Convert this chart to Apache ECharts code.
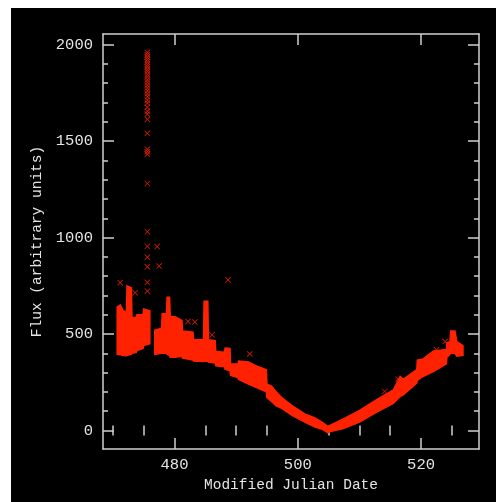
<!DOCTYPE html>
<html>
<head>
<meta charset="utf-8">
<script src="https://cdn.jsdelivr.net/npm/echarts@6/dist/echarts.min.js"></script>
<style>
  html, body { margin: 0; padding: 0; background: #fff; }
  #chart { position: absolute; left: 11px; top: 8px; width: 485px; height: 494px; background: #000; }
</style>
</head>
<body>
<div id="chart"></div>
<script>
// main band of points: date, lower and upper edge of the flux (null = gap)
var bandDate = [470.7, 471.2, 471.7, 472.2, 472.3, 473.0, 473.1, 473.8, 473.9, 474.9, 475.0, 476.0, null,
    476.8, 477.9, 478.0, 478.7, 478.8, 479.2, 479.3, 480.1, 481.2, 481.3, 483.0, 483.1, 484.7, 484.8, 485.4,
    485.5, 486.6, 486.7, 488.1, 488.2, 489.0, 489.1, 490.3, 490.4, 492.0, 493.6, 494.9, 495.0, 495.75, 496.5,
    497.4, 499.0, 501.2, 502.8, 504.1, 504.9, 505.3, 507.4, 510.1, 512.8, 515.5, 516.6, 517.1, 519.3, 519.4,
    520.3, 522.0, 524.1, 524.2, 524.7, 524.8, 525.5, 525.8, 526.8];
var bandLow = [395, 393, 388, 387, 390, 395, 400, 405, 415, 425, 440, 450, null,
    395, 400, 400, 400, 395, 390, 380, 380, 385, 375, 365, 360, 358, 360, 358,
    355, 350, 335, 330, 318, 310, 285, 275, 265, 240, 218, 200, 170, 150, 128,
    115, 80, 42, 18, 5, -12, -5, 10, 45, 95, 140, 176, 185, 245, 260,
    280, 305, 345, 380, 395, 400, 400, 385, 390];
var bandHigh = [640, 650, 620, 615, 750, 740, 585, 585, 600, 600, 630, 620, null,
    520, 530, 605, 605, 690, 690, 590, 590, 570, 515, 510, 470, 470, 670, 670,
    470, 465, 410, 405, 427, 425, 345, 345, 360, 355, 330, 315, 240, 230, 200,
    170, 130, 85, 65, 40, 20, 28, 60, 105, 160, 210, 280, 265, 315, 365,
    370, 412, 420, 455, 460, 515, 515, 460, 440];

// scattered points away from the band
var outDate = [475.6, 475.6, 475.6, 475.6, 475.6, 475.6, 475.6, 475.6, 475.6, 475.6, 475.6, 475.6, 475.6,
    475.6, 475.6, 475.6, 475.6, 475.6, 475.6, 475.6, 475.6, 475.6, 475.6, 475.6, 475.6, 475.6, 475.6,
    475.6, 475.6, 475.6, 475.6, 475.6, 475.6, 475.6, 475.6,
    477.2, 477.5, 471.2, 488.7, 482.2, 483.3, 486.1, 492.2, 473.6, 516.3, 523.9, 522.5, 514.1];
var outFlux = [1960, 1948, 1935, 1922, 1910, 1897, 1885, 1872, 1860, 1845, 1832, 1818, 1805,
    1790, 1775, 1760, 1745, 1730, 1712, 1698, 1675, 1655, 1640, 1612, 1540, 1458, 1445, 1432,
    1280, 1030, 955, 898, 848, 768, 722,
    953, 852, 766, 781, 565, 562, 496, 397, 714, 266, 461, 418, 202];

var majorX = [480, 500, 520];
var minorX = [470, 475, 485, 490, 495, 505, 510, 515, 525];
var majorY = [0, 500, 1000, 1500, 2000];
var minorY = [100, 200, 300, 400, 600, 700, 800, 900, 1100, 1200, 1300, 1400, 1600, 1700, 1800, 1900];

var red = '#ff2200';
var axisColor = '#d0d0d0';
var textColor = '#e4e4e4';
var font = 'Liberation Mono';

var myChart = echarts.init(document.getElementById('chart'));

function tickAxis(pos, ticks, len, extra) {
    var ax = {
        type: 'value',
        position: pos,
        axisLine: { show: false },
        axisTick: { show: true, inside: true, length: len, customValues: ticks, lineStyle: { color: axisColor, width: 1.5 } },
        axisLabel: { show: false },
        splitLine: { show: false }
    };
    for (var k in extra) ax[k] = extra[k];
    return ax;
}

var xr = { min: 468.4, max: 529.4 };
var yr = { min: -96, max: 2055 };
var plain = function (v) { return String(v); };

var xAxes = [
    tickAxis('bottom', majorX, 11, {
        min: xr.min, max: xr.max,
        axisLine: { show: true, onZero: false, lineStyle: { color: axisColor, width: 1.5 } },
        axisLabel: { show: true, customValues: majorX, formatter: plain, color: textColor, fontFamily: font, fontSize: 15.5, margin: 8 },
        name: 'Modified Julian Date',
        nameLocation: 'middle',
        nameGap: 26,
        nameTextStyle: { color: textColor, fontFamily: font, fontSize: 14.5 }
    }),
    tickAxis('bottom', minorX, 5, { min: xr.min, max: xr.max }),
    tickAxis('top', majorX, 11, { min: xr.min, max: xr.max,
        axisLine: { show: true, onZero: false, lineStyle: { color: axisColor, width: 1.5 } } }),
    tickAxis('top', minorX, 5, { min: xr.min, max: xr.max })
];
var yAxes = [
    tickAxis('left', majorY, 11, {
        min: yr.min, max: yr.max,
        axisLine: { show: true, onZero: false, lineStyle: { color: axisColor, width: 1.5 } },
        axisLabel: { show: true, customValues: majorY, formatter: plain, color: textColor, fontFamily: font, fontSize: 15.5, margin: 10 },
        name: 'Flux (arbitrary units)',
        nameLocation: 'middle',
        nameGap: 50,
        nameRotate: 90,
        nameTextStyle: { color: textColor, fontFamily: font, fontSize: 14.5 }
    }),
    tickAxis('left', minorY, 5, { min: yr.min, max: yr.max }),
    tickAxis('right', majorY, 11, { min: yr.min, max: yr.max,
        axisLine: { show: true, onZero: false, lineStyle: { color: axisColor, width: 1.5 } } }),
    tickAxis('right', minorY, 5, { min: yr.min, max: yr.max })
];

// one polygon per unbroken run of band samples
var runs = [];
var start = 0;
for (var i = 0; i <= bandDate.length; i++) {
    if (i == bandDate.length || bandDate[i] == null) {
        if (i - 1 > start) runs.push([bandDate[start], bandDate[i - 1], start, i - 1]);
        start = i + 1;
    }
}
var outliers = [];
for (var j = 0; j < outDate.length; j++) outliers.push([outDate[j], outFlux[j]]);

var option = {
    backgroundColor: '#000',
    animation: false,
    grid: { left: 92, top: 26, width: 376, height: 415 },
    xAxis: xAxes,
    yAxis: yAxes,
    series: [
        {
            type: 'custom',
            xAxisIndex: 0,
            yAxisIndex: 0,
            encode: { x: [0, 1] },
            data: runs,
            renderItem: function (params, api) {
                var a = api.value(2), b = api.value(3);
                var pts = [];
                for (var k = a; k <= b; k++) pts.push(api.coord([bandDate[k], bandHigh[k]]));
                for (var k2 = b; k2 >= a; k2--) pts.push(api.coord([bandDate[k2], bandLow[k2]]));
                return {
                    type: 'polygon',
                    shape: { points: pts },
                    style: { fill: red, stroke: red, lineWidth: 1.5 }
                };
            }
        },
        {
            type: 'scatter',
            xAxisIndex: 0,
            yAxisIndex: 0,
            symbol: 'path://M0,1L1,0L5,4L9,0L10,1L6,5L10,9L9,10L5,6L1,10L0,9L4,5Z',
            symbolSize: 6,
            itemStyle: { color: red },
            data: outliers
        }
    ]
};
myChart.setOption(option);
</script>
</body>
</html>
